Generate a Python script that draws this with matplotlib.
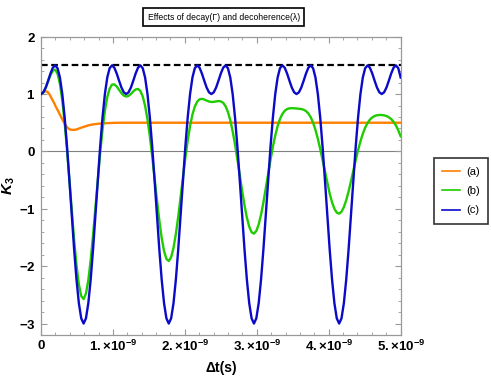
import numpy as np
import matplotlib
matplotlib.use("Agg")
from matplotlib import pyplot as plt
from matplotlib.ticker import FixedLocator, MultipleLocator, FuncFormatter

# K3 curves (time in units of 1e-9 s)
t_ns = np.linspace(0, 5, 153)

# (a) decay: fast settling to 0.5
t_a = [0, 0.03, 0.06, 0.09, 0.12, 0.15, 0.18, 0.21, 0.24, 0.27, 0.30, 0.33,
       0.36, 0.39, 0.42, 0.46, 0.50, 0.55, 0.60, 0.66, 0.72, 0.80, 0.90, 1.00,
       1.10, 1.25, 5.0]
k3_a = [1.00, 1.03, 1.05, 1.04, 0.99, 0.92, 0.85, 0.77, 0.70, 0.625, 0.55, 0.48,
        0.425, 0.39, 0.377, 0.375, 0.385, 0.41, 0.43, 0.455, 0.47, 0.483, 0.492, 0.497,
        0.5, 0.5, 0.5]

# (b) decoherence
k3_b = [1.000, 1.029, 1.109, 1.218, 1.328, 1.408, 1.425, 1.354, 1.177, 0.890, 0.501, 0.028,
        -0.497, -1.035, -1.545, -1.984, -2.318, -2.520, -2.574, -2.478, -2.244, -1.894, -1.460, -0.979,
        -0.490, -0.027, 0.378, 0.706, 0.945, 1.094, 1.164, 1.169, 1.132, 1.073, 1.015, 0.973,
        0.957, 0.968, 1.002, 1.045, 1.080, 1.089, 1.054, 0.958, 0.794, 0.560, 0.261, -0.087,
        -0.465, -0.845, -1.201, -1.506, -1.736, -1.874, -1.910, -1.844, -1.682, -1.439, -1.136, -0.798,
        -0.449, -0.113, 0.190, 0.444, 0.642, 0.781, 0.867, 0.908, 0.916, 0.905, 0.886, 0.870,
        0.862, 0.864, 0.871, 0.878, 0.873, 0.847, 0.788, 0.688, 0.542, 0.352, 0.122, -0.138,
        -0.413, -0.685, -0.937, -1.151, -1.312, -1.408, -1.433, -1.386, -1.273, -1.102, -0.887, -0.646,
        -0.394, -0.147, 0.081, 0.279, 0.441, 0.565, 0.652, 0.708, 0.738, 0.751, 0.754, 0.752,
        0.748, 0.745, 0.739, 0.727, 0.703, 0.661, 0.595, 0.500, 0.375, 0.221, 0.043, -0.153,
        -0.355, -0.553, -0.734, -0.886, -1.000, -1.067, -1.085, -1.051, -0.971, -0.849, -0.695, -0.520,
        -0.336, -0.152, 0.021, 0.175, 0.307, 0.414, 0.495, 0.554, 0.593, 0.617, 0.630, 0.635,
        0.634, 0.629, 0.617, 0.596, 0.564, 0.517, 0.453, 0.368, 0.263]

# (c) no decay, no decoherence
k3_c = [1.0, 1.03, 1.113, 1.232, 1.358, 1.459, 1.5, 1.45, 1.287, 1.0, 0.592, 0.082,
        -0.5, -1.112, -1.706, -2.232, -2.645, -2.909, -3.0, -2.909, -2.645, -2.232, -1.706, -1.112,
        -0.5, 0.082, 0.592, 1.0, 1.287, 1.45, 1.5, 1.459, 1.358, 1.232, 1.113, 1.03,
        1.0, 1.03, 1.113, 1.232, 1.358, 1.459, 1.5, 1.45, 1.287, 1.0, 0.592, 0.082,
        -0.5, -1.112, -1.706, -2.232, -2.645, -2.909, -3.0, -2.909, -2.645, -2.232, -1.706, -1.112,
        -0.5, 0.082, 0.592, 1.0, 1.287, 1.45, 1.5, 1.459, 1.358, 1.232, 1.113, 1.03,
        1.0, 1.03, 1.113, 1.232, 1.358, 1.459, 1.5, 1.45, 1.287, 1.0, 0.592, 0.082,
        -0.5, -1.112, -1.706, -2.232, -2.645, -2.909, -3.0, -2.909, -2.645, -2.232, -1.706, -1.112,
        -0.5, 0.082, 0.592, 1.0, 1.287, 1.45, 1.5, 1.459, 1.358, 1.232, 1.113, 1.03,
        1.0, 1.03, 1.113, 1.232, 1.358, 1.459, 1.5, 1.45, 1.287, 1.0, 0.592, 0.082,
        -0.5, -1.112, -1.706, -2.232, -2.645, -2.909, -3.0, -2.909, -2.645, -2.232, -1.706, -1.112,
        -0.5, 0.082, 0.592, 1.0, 1.287, 1.45, 1.5, 1.459, 1.358, 1.232, 1.113, 1.03,
        1.0, 1.03, 1.113, 1.232, 1.358, 1.459, 1.5, 1.45, 1.287]

lgi_bound = 1.5
labels = ["(a)", "(b)", "(c)"]
colors = ["#FF8000", "#1ECC00", "#0A0AC8"]
x_ticks_ns = [0, 1, 2, 3, 4, 5]
y_ticks = [-3, -2, -1, 0, 1, 2]

plt.rcParams['font.family'] = ['Liberation Sans', 'DejaVu Sans']
plt.rcParams['mathtext.fontset'] = 'custom'
plt.rcParams['mathtext.rm'] = 'Liberation Sans:bold'
plt.rcParams['mathtext.bf'] = 'Liberation Sans:bold'
plt.rcParams['mathtext.it'] = 'Liberation Sans:italic:bold'

fig = plt.figure(figsize=(4.91, 3.82), dpi=100)
ax = fig.add_axes([0.0835, 0.123, 0.7325, 0.781])

t = t_ns * 1e-9
ax.axhline(0, color="#808080", lw=0.8, zorder=1)
ax.axhline(lgi_bound, color="black", lw=1.6, ls=(0, (3, 1.6)), zorder=2)
ax.plot(np.array(t_a) * 1e-9, k3_a, color=colors[0], lw=1.7, label=labels[0], zorder=3)
ax.plot(t, k3_b, color=colors[1], lw=1.7, label=labels[1], zorder=4)
ax.plot(t, k3_c, color=colors[2], lw=1.7, label=labels[2], zorder=5)

ax.set_xlim(0, 5e-9)
ax.set_ylim(-3.2, 2)

ax.xaxis.set_major_locator(FixedLocator([v * 1e-9 for v in x_ticks_ns]))
ax.xaxis.set_minor_locator(MultipleLocator(0.2e-9))
ax.yaxis.set_major_locator(FixedLocator(y_ticks))
ax.yaxis.set_minor_locator(MultipleLocator(0.2))


def xfmt(v, pos):
    n = int(round(v * 1e9))
    if n == 0:
        return r'$0$'
    return r'$%d.{\times}10^{-9}$' % n


def yfmt(v, pos):
    return r'$%d$' % int(round(v))


ax.xaxis.set_major_formatter(FuncFormatter(xfmt))
ax.yaxis.set_major_formatter(FuncFormatter(yfmt))
ax.tick_params(which='both', direction='in', top=True, right=True, color='#999999', labelsize=9.5)
ax.tick_params(which='major', length=4.5, width=0.8)
ax.tick_params(which='minor', length=2.5, width=0.6)
ax.tick_params(axis='x', pad=3)
ax.tick_params(axis='y', pad=4)
for s in ax.spines.values():
    s.set_color('#999999')
    s.set_linewidth(0.9)

ax.set_xlabel("Δt(s)", fontsize=10, fontweight='bold', labelpad=5)
ax.set_ylabel(r'$K_3$', fontsize=11, labelpad=1)

fig.text(0.456, 0.955, "Effects of decay(Γ) and decoherence(λ)", fontsize=6.2,
         ha='center', va='center',
         bbox=dict(boxstyle='square,pad=0.5', fc='white', ec='black', lw=1.2))

leg = fig.legend(loc='center', bbox_to_anchor=(0.939, 0.5), fontsize=8, frameon=True,
                 fancybox=False, edgecolor='black', handlelength=1.6, handletextpad=0.6,
                 labelspacing=0.85, borderpad=0.75)
leg.get_frame().set_linewidth(1.2)
for line in leg.get_lines():
    line.set_linewidth(1.2)

plt.savefig("out.png", dpi=100)
